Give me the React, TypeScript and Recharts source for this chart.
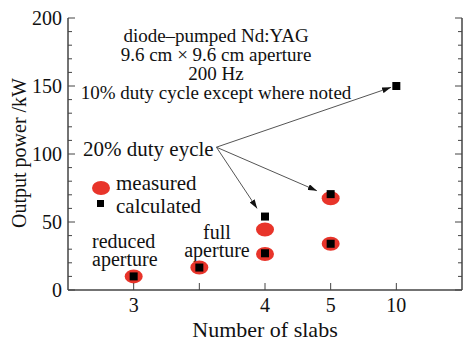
import { ReferenceLine, Scatter, ScatterChart, XAxis, YAxis } from "recharts";

// slab positions along the axis (the 2nd slot carries no label)
const slabSlots = [1, 2, 3, 4, 5];
const slabLabels = ["3", "", "4", "5", "10"];
const powerTicks = [0, 10, 20, 30, 40, 50, 60, 70, 80, 90, 100, 110, 120, 130, 140, 150, 160, 170, 180, 190, 200];

const measuredSlot = [1, 2, 3, 3, 4, 4];
const measuredPower = [10, 16.5, 44.5, 26.5, 67.5, 34];

const calculatedSlot = [1, 2, 3, 3, 4, 4, 5];
const calculatedPower = [10, 16.5, 54, 27, 70.5, 34, 150];

const measured = measuredSlot.map((x, i) => ({ x, y: measuredPower[i] }));
const calculated = calculatedSlot.map((x, i) => ({ x, y: calculatedPower[i] }));

const font = "'Liberation Serif', 'Times New Roman', serif";
const axisColor = "#444";
const red = "#e8342a";

const txt = (size: number) => ({ fontSize: size, fontFamily: font, fill: "#111" });

const Ellipse = (props: any) => (
  <ellipse cx={props.cx} cy={props.cy} rx={9} ry={7} fill={red} />
);

const Square = (props: any) => (
  <rect x={props.cx - 4} y={props.cy - 4} width={8} height={8} fill="#000" />
);

const LeftTick = (props: any) => {
  const { x, y, payload } = props;
  const major = payload.value % 50 === 0;
  return (
    <g>
      <line x1={x + 6} y1={y} x2={x + 6 + (major ? 7 : 4)} y2={y} stroke={axisColor} />
      {major && (
        <text x={x} y={y + 7} textAnchor="end" style={txt(20)}>
          {payload.value}
        </text>
      )}
    </g>
  );
};

const RightTick = (props: any) => {
  const { x, y, payload } = props;
  const major = payload.value % 50 === 0;
  return <line x1={x} y1={y} x2={x - (major ? 7 : 4)} y2={y} stroke={axisColor} />;
};

const BottomTick = (props: any) => {
  const { x, y, payload } = props;
  const label = slabLabels[slabSlots.indexOf(payload.value)];
  return (
    <g>
      <line x1={x} y1={y} x2={x} y2={y - 7} stroke={axisColor} />
      <text x={x} y={y + 22} textAnchor="middle" style={txt(20)}>
        {label}
      </text>
    </g>
  );
};

const TopTick = (props: any) => {
  const { x, y } = props;
  return <line x1={x} y1={y} x2={x} y2={y + 7} stroke={axisColor} />;
};

const header = txt(19);
const note = txt(20);

export default function App() {
  return (
    <div style={{ position: "absolute", left: 0, top: 0, background: "#fff" }}>
      <ScatterChart width={463} height={343} margin={{ top: 18, right: 0, bottom: 0, left: 0 }}>
        <defs>
          <marker id="arrowHead" markerWidth="9" markerHeight="6" refX="9" refY="3" orient="auto" markerUnits="userSpaceOnUse">
            <path d="M0,0 L9,3 L0,6 z" fill="#111" />
          </marker>
        </defs>
        <XAxis
          xAxisId="bottom"
          type="number"
          dataKey="x"
          domain={[0, 6]}
          ticks={slabSlots}
          height={53}
          tickSize={0}
          tickMargin={0}
          tickLine={false}
          tick={<BottomTick />}
          axisLine={{ stroke: axisColor, strokeWidth: 1.5 }}
          allowDataOverflow
        />
        <XAxis
          xAxisId="top"
          orientation="top"
          type="number"
          domain={[0, 6]}
          ticks={slabSlots}
          height={0}
          tickSize={0}
          tickMargin={0}
          tickLine={false}
          tick={<TopTick />}
          axisLine={{ stroke: axisColor, strokeWidth: 1.5 }}
          allowDataOverflow
        />
        <YAxis
          yAxisId="left"
          type="number"
          dataKey="y"
          domain={[0, 200]}
          ticks={powerTicks}
          interval={0}
          width={68}
          tickSize={0}
          tickMargin={6}
          tickLine={false}
          tick={<LeftTick />}
          axisLine={{ stroke: axisColor, strokeWidth: 1.5 }}
          allowDataOverflow
        />
        <YAxis
          yAxisId="right"
          orientation="right"
          type="number"
          domain={[0, 200]}
          ticks={powerTicks}
          interval={0}
          width={1}
          tickSize={0}
          tickMargin={0}
          tickLine={false}
          tick={<RightTick />}
          axisLine={{ stroke: axisColor, strokeWidth: 1.5 }}
          allowDataOverflow
        />
        <ReferenceLine
          xAxisId="bottom"
          yAxisId="left"
          segment={[{ x: 2.26, y: 105 }, { x: 4.92, y: 149 }]}
          stroke="#555"
          markerEnd="url(#arrowHead)"
        />
        <ReferenceLine
          xAxisId="bottom"
          yAxisId="left"
          segment={[{ x: 2.26, y: 105 }, { x: 3.79, y: 73 }]}
          stroke="#555"
          markerEnd="url(#arrowHead)"
        />
        <ReferenceLine
          xAxisId="bottom"
          yAxisId="left"
          segment={[{ x: 2.26, y: 105 }, { x: 2.88, y: 60 }]}
          stroke="#555"
          markerEnd="url(#arrowHead)"
        />
        <Scatter xAxisId="bottom" yAxisId="left" data={measured} shape={<Ellipse />} isAnimationActive={false} />
        <Scatter xAxisId="bottom" yAxisId="left" data={calculated} shape={<Square />} isAnimationActive={false} />

        <text x={265} y={337} textAnchor="middle" style={txt(22)}>Number of slabs</text>
        <text x={26} y={153} transform="rotate(-90, 26, 153)" textAnchor="middle" style={txt(20)}>
          Output power /kW
        </text>

        <text x={216} y={42} textAnchor="middle" style={header}>diode–pumped Nd:YAG</text>
        <text x={216} y={61} textAnchor="middle" style={header}>9.6 cm × 9.6 cm aperture</text>
        <text x={216} y={80} textAnchor="middle" style={header}>200 Hz</text>
        <text x={216} y={99} textAnchor="middle" style={header}>10% duty cycle except where noted</text>
        <text x={83} y={156} style={txt(21)}>20% duty eycle</text>

        <ellipse cx={101} cy={188} rx={9} ry={7} fill={red} />
        <text x={116} y={190} style={txt(21)}>measured</text>
        <rect x={97} y={200} width={7} height={7} fill="#000" />
        <text x={116} y={213} style={txt(21)}>calculated</text>

        <text x={92} y={248} style={note}>reduced</text>
        <text x={92} y={266} style={note}>aperture</text>
        <text x={217} y={239} textAnchor="middle" style={note}>full</text>
        <text x={217} y={257} textAnchor="middle" style={note}>aperture</text>
      </ScatterChart>
    </div>
  );
}
